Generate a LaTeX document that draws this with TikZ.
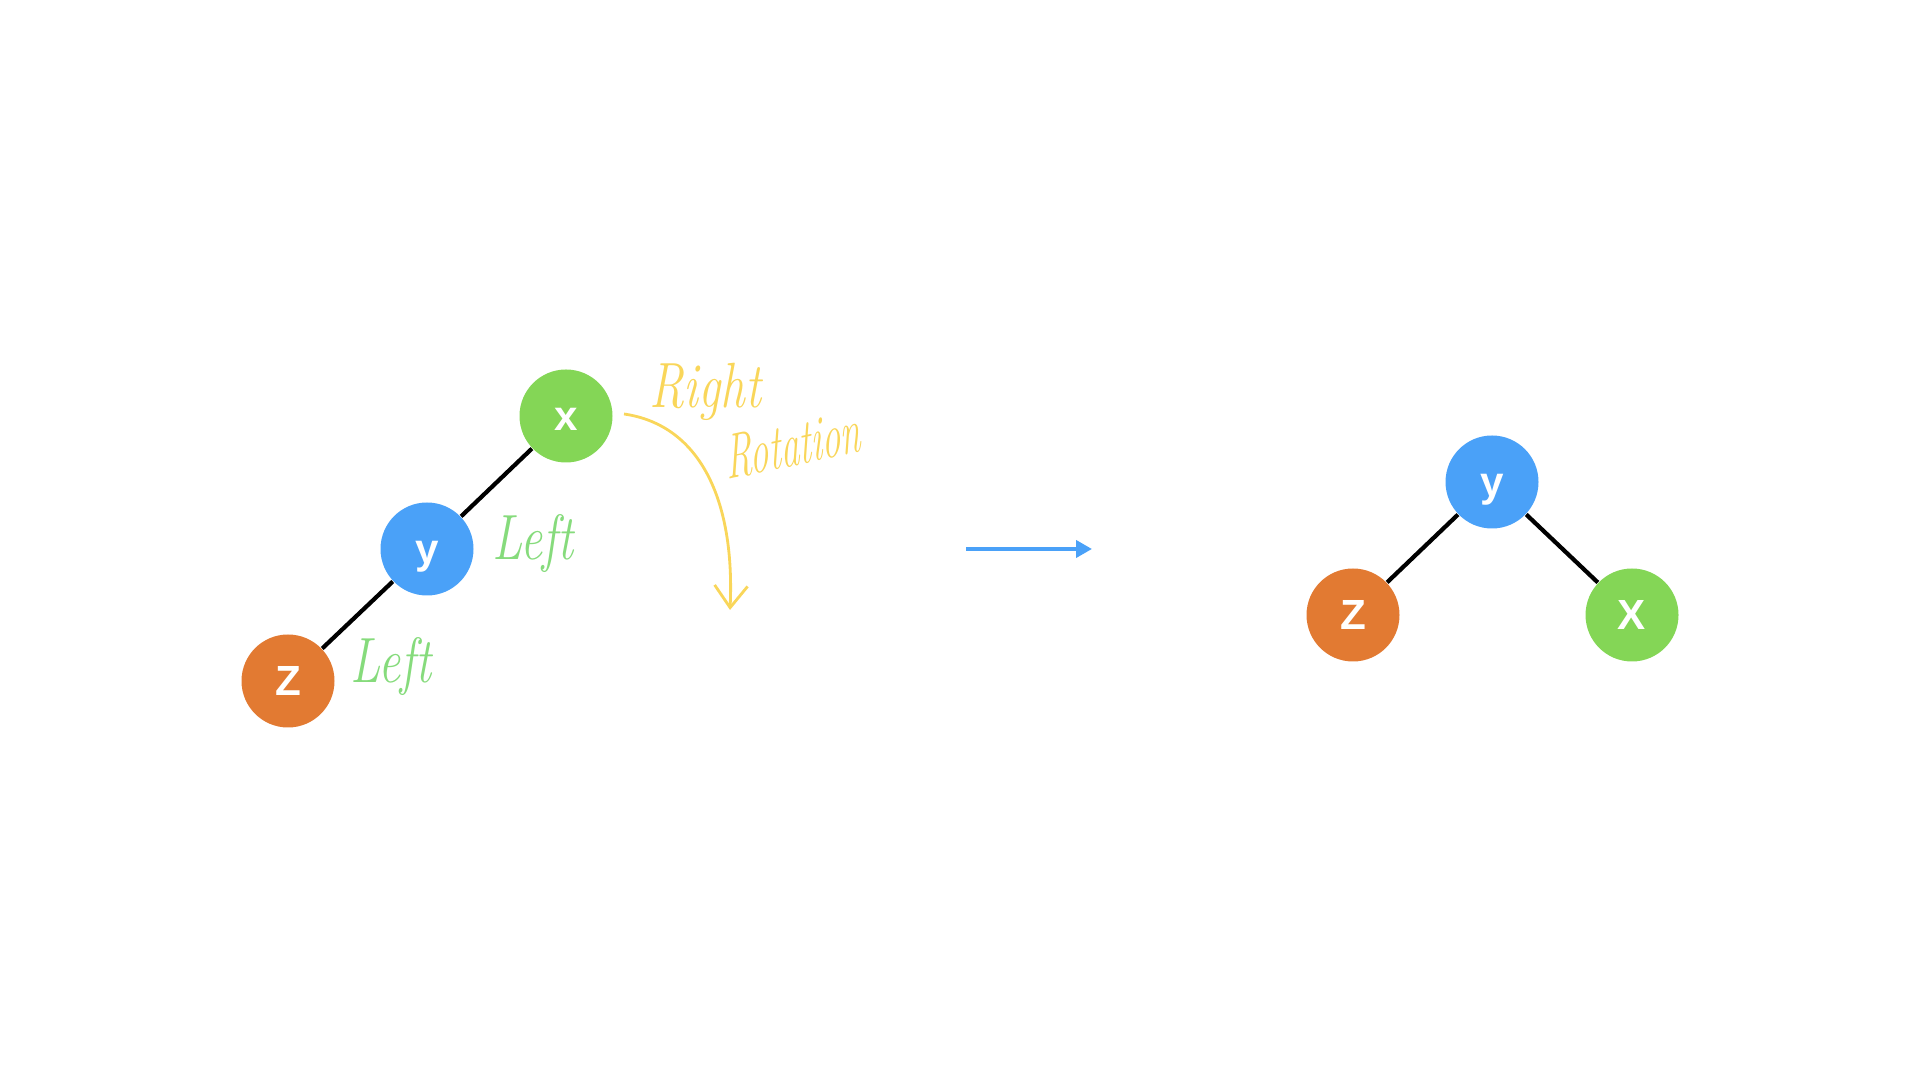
\documentclass[tikz,border=0pt]{standalone}
\usepackage{fontspec}
\newfontfamily\keyfont{Liberation Sans}
\usepackage{xcolor,tikz}
\usetikzlibrary{arrows.meta,positioning}
\definecolor{keygreen}{HTML}{84D656}
\definecolor{keyblue}{HTML}{4AA1F8}
\definecolor{keyorange}{HTML}{E27A32}
\definecolor{penyellow}{HTML}{F9D65A}
\definecolor{pengreen}{HTML}{86DB7C}
\tikzset{>=stealth}

\begin{document}
\begin{tikzpicture}[
  key/.style={circle,minimum size=0.93cm,inner sep=0pt,text=white,text height=0.30cm,text depth=0cm,font=\keyfont\bfseries\fontsize{12}{12}\selectfont},
  edge/.style={line width=1.2pt,black},
  pen/.style={font=\itshape\fontsize{14}{14}\selectfont,yscale=1.3,inner sep=0pt,anchor=base west}]
\useasboundingbox (0,0) rectangle (19.2,10.8);

% before: left-left chain
\node[key,fill=keygreen]  (lx) at (5.66,6.64) {x};
\node[key,fill=keyblue]   (ly) at (4.27,5.31) {y};
\node[key,fill=keyorange] (lz) at (2.88,3.99) {Z};
\draw[edge] (lx) -- (ly);
\draw[edge] (ly) -- (lz);

\node[pen,text=pengreen] (lefty) at (4.92,5.20) {Left};
\node[pen,text=pengreen] (leftz) at (3.50,3.97) {Left};
\node[pen,text=penyellow] (right) at (6.49,6.72) {Right};
\node[pen,text=penyellow,xscale=0.75,rotate=7] (rot) at (7.27,6.00) {Rotation};

\coordinate (turnA) at (6.24,6.66);
\coordinate (turnB) at (7.30,4.70);
\draw[penyellow,line width=0.8pt,-{Straight Barb[length=0.22cm,width=0.33cm]}]
  (turnA) .. controls (7.00,6.55) and (7.35,5.80) .. (turnB);

% rotation step
\coordinate (stepA) at (9.66,5.31);
\coordinate (stepB) at (10.92,5.31);
\draw[keyblue,line width=1.1pt,-{Triangle[length=0.16cm,width=0.17cm]}] (stepA) -- (stepB);

% after: balanced
\node[key,fill=keyblue]   (ry) at (14.92,5.98) {y};
\node[key,fill=keyorange] (rz) at (13.53,4.65) {Z};
\node[key,fill=keygreen]  (rx) at (16.32,4.65) {X};
\draw[edge] (ry) -- (rz);
\draw[edge] (ry) -- (rx);
\end{tikzpicture}
\end{document}
